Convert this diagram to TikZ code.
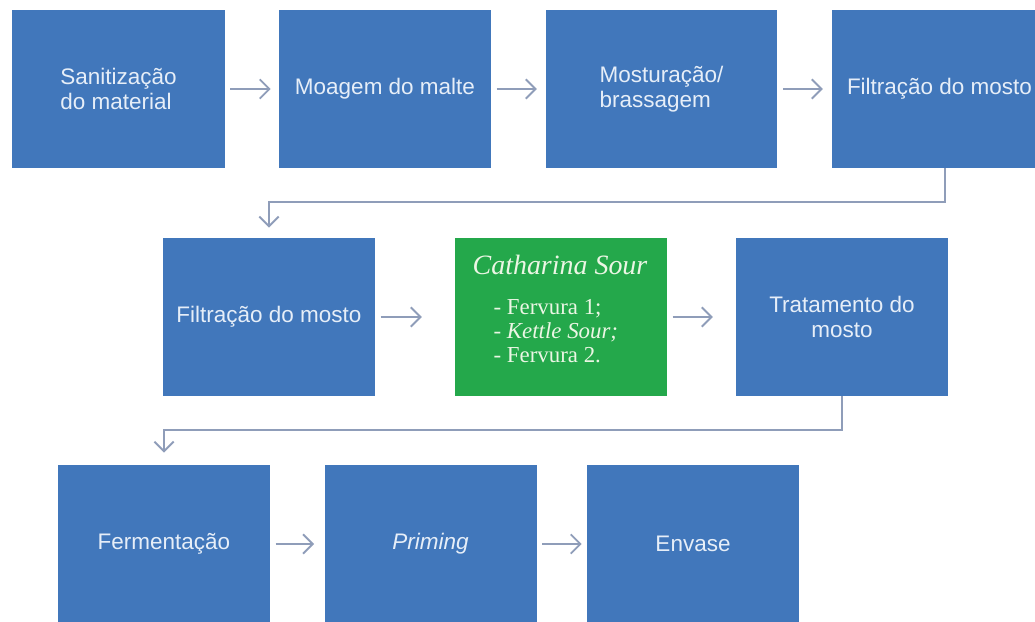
\documentclass[tikz,border=0pt]{standalone}
\usepackage{fontspec}
\setmainfont{Liberation Serif}
\setsansfont{Liberation Sans}
\usetikzlibrary{arrows.meta}
\definecolor{stepblue}{RGB}{65,119,187}
\definecolor{sourgreen}{RGB}{36,168,75}
\definecolor{linkgray}{RGB}{143,157,185}
\definecolor{boxtext}{RGB}{230,238,248}
\definecolor{sourtext}{RGB}{235,246,228}
\tikzset{
  stepbox/.style={fill=stepblue, text=boxtext, inner sep=0pt, align=center,
    font=\sffamily\fontsize{12.8}{14.2}\selectfont,
    minimum width=42.4mm, minimum height=31.6mm},
  sourbox/.style={stepbox, fill=sourgreen},
  sourlist/.style={text=sourtext, inner sep=0pt, align=left,
    font=\rmfamily\fontsize{13}{13.6}\selectfont},
  link/.style={draw=linkgray, line width=1.1pt,
    -{Straight Barb[length=5.5pt,width=11pt]}, shorten <=3pt}
}
\begin{document}
\begin{tikzpicture}[x=0.2mm, y=-0.2mm]
  \useasboundingbox (0,0) rectangle (1035,622);
  \draw
    (118.5,89) node[stepbox, align=left] (b1){Sanitização\\do material}
    (385,89) node[stepbox] (b2){Moagem do malte}
    (661.5,89) node[stepbox, minimum width=46.2mm, align=left] (b3){Mosturação/\\brassagem}
    (939.5,89) node[stepbox, minimum width=43mm] (b4){Filtração do mosto}
    (269,317) node[stepbox] (b5){Filtração do mosto}
    (561,317) node[sourbox] (sour){}
    (560,309) node[sourlist] (sourtxt){{\itshape\fontsize{15.9}{18}\selectfont Catharina Sour}\\[9pt]
      \hspace*{4.2mm}- Fervura 1;\\
      \hspace*{4.2mm}- \textit{Kettle Sour;}\\
      \hspace*{4.2mm}- Fervura 2.}
    (842,317) node[stepbox] (b7){Tratamento do\\mosto}
    (164,544) node[stepbox] (b8){Fermentação}
    (430.5,544) node[stepbox] (b9){\textit{Priming}}
    (693,544) node[stepbox] (b10){Envase};
  \coordinate (turn1) at (945,202);
  \coordinate (turn2) at (842,430);
  \begin{scope}[link]
    \draw[shorten >=4.5pt] (b1.east) -- (b2.west);
    \draw[shorten >=5pt] (b2.east) -- (b3.west);
    \draw[shorten <=3.4pt, shorten >=5pt] (b3.east) -- (b4.west);
    \draw[shorten <=0pt, shorten >=5.7pt] (b4.south -| turn1) -- (turn1) -| (b5.north);
    \draw[shorten >=18.7pt] (b5.east) -- (sour.west);
    \draw[shorten >=13pt] (sour.east) -- (b7.west);
    \draw[shorten <=0pt, shorten >=6.8pt] (b7.south) -- (turn2) -| (b8.north);
    \draw[shorten >=5.7pt] (b8.east) -- (b9.west);
    \draw[shorten >=2.8pt] (b9.east) -- (b10.west);
  \end{scope}
\end{tikzpicture}
\end{document}
